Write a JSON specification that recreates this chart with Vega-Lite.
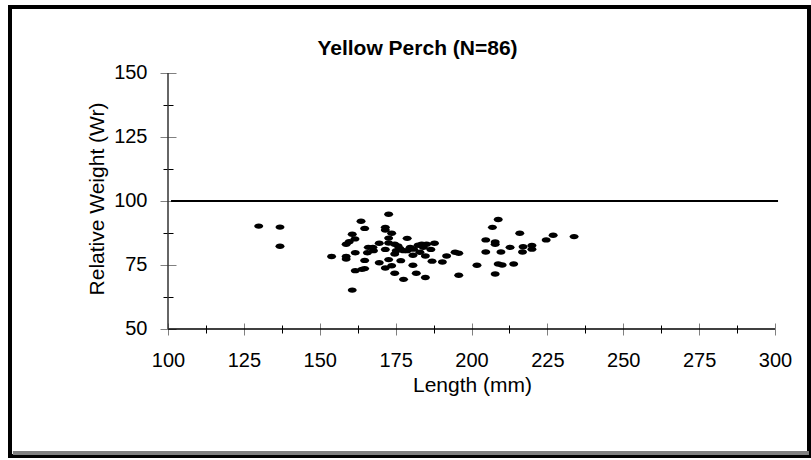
{
  "$schema": "https://vega.github.io/schema/vega-lite/v6.json",
  "width": 799,
  "height": 449,
  "autosize": {"type": "none"},
  "padding": {"left": 10, "top": 7, "right": 2, "bottom": 4},
  "background": "white",
  "config": {
    "view": {"stroke": "black", "strokeWidth": 4},
    "font": "Liberation Sans",
    "axis": {"grid": false, "domain": false, "labelFont": "Liberation Sans", "titleFont": "Liberation Sans"}
  },
  "title": {
    "text": "Yellow Perch (N=86)",
    "font": "Liberation Sans",
    "fontSize": 21,
    "fontWeight": "bold",
    "color": "black",
    "anchor": "middle",
    "frame": "group",
    "baseline": "alphabetic",
    "offset": 0,
    "dy": 69,
    "dx": 8
  },
  "resolve": {"axis": {"x": "independent", "y": "independent"}},
  "layer": [
    {
      "data": {"values": [
        {"Length": 129.9, "Wr": 90.2},
        {"Length": 136.9, "Wr": 89.8},
        {"Length": 136.9, "Wr": 82.3},
        {"Length": 153.9, "Wr": 78.3},
        {"Length": 158.7, "Wr": 83.1},
        {"Length": 158.7, "Wr": 78.3},
        {"Length": 158.7, "Wr": 77.3},
        {"Length": 159.7, "Wr": 84.1},
        {"Length": 160.7, "Wr": 87.0},
        {"Length": 161.6, "Wr": 85.2},
        {"Length": 160.7, "Wr": 65.2},
        {"Length": 161.7, "Wr": 79.8},
        {"Length": 161.7, "Wr": 72.8},
        {"Length": 163.6, "Wr": 92.1},
        {"Length": 163.9, "Wr": 73.3},
        {"Length": 164.8, "Wr": 89.3},
        {"Length": 164.8, "Wr": 76.8},
        {"Length": 164.8, "Wr": 73.6},
        {"Length": 165.7, "Wr": 79.8},
        {"Length": 166.0, "Wr": 81.9},
        {"Length": 167.5, "Wr": 81.9},
        {"Length": 167.7, "Wr": 80.6},
        {"Length": 169.6, "Wr": 83.5},
        {"Length": 169.6, "Wr": 75.9},
        {"Length": 171.6, "Wr": 89.7},
        {"Length": 171.6, "Wr": 88.7},
        {"Length": 171.6, "Wr": 81.1},
        {"Length": 171.6, "Wr": 73.8},
        {"Length": 172.7, "Wr": 94.8},
        {"Length": 172.7, "Wr": 85.5},
        {"Length": 172.7, "Wr": 83.6},
        {"Length": 172.7, "Wr": 77.1},
        {"Length": 173.7, "Wr": 87.4},
        {"Length": 173.7, "Wr": 74.7},
        {"Length": 174.7, "Wr": 83.1},
        {"Length": 174.7, "Wr": 79.3},
        {"Length": 174.7, "Wr": 71.8},
        {"Length": 175.2, "Wr": 80.6},
        {"Length": 175.8, "Wr": 82.4},
        {"Length": 176.7, "Wr": 76.7},
        {"Length": 177.6, "Wr": 80.6},
        {"Length": 177.6, "Wr": 69.4},
        {"Length": 178.8, "Wr": 85.4},
        {"Length": 178.8, "Wr": 80.6},
        {"Length": 179.8, "Wr": 81.9},
        {"Length": 180.7, "Wr": 78.8},
        {"Length": 180.7, "Wr": 74.9},
        {"Length": 180.9, "Wr": 81.2},
        {"Length": 181.8, "Wr": 71.8},
        {"Length": 182.4, "Wr": 82.7},
        {"Length": 183.6, "Wr": 83.1},
        {"Length": 184.1, "Wr": 81.9},
        {"Length": 184.8, "Wr": 78.5},
        {"Length": 184.8, "Wr": 70.1},
        {"Length": 185.2, "Wr": 83.1},
        {"Length": 186.6, "Wr": 81.1},
        {"Length": 187.0, "Wr": 76.5},
        {"Length": 187.8, "Wr": 83.5},
        {"Length": 190.4, "Wr": 76.2},
        {"Length": 191.8, "Wr": 78.5},
        {"Length": 194.6, "Wr": 80.0},
        {"Length": 195.8, "Wr": 79.6},
        {"Length": 195.8, "Wr": 71.0},
        {"Length": 201.8, "Wr": 74.9},
        {"Length": 204.7, "Wr": 84.8},
        {"Length": 204.7, "Wr": 80.1},
        {"Length": 206.9, "Wr": 89.7},
        {"Length": 207.8, "Wr": 84.0},
        {"Length": 207.8, "Wr": 83.1},
        {"Length": 207.8, "Wr": 71.5},
        {"Length": 208.8, "Wr": 92.8},
        {"Length": 208.8, "Wr": 75.4},
        {"Length": 209.7, "Wr": 80.1},
        {"Length": 210.1, "Wr": 75.0},
        {"Length": 212.7, "Wr": 81.9},
        {"Length": 213.9, "Wr": 75.4},
        {"Length": 215.9, "Wr": 87.4},
        {"Length": 216.8, "Wr": 80.1},
        {"Length": 217.0, "Wr": 82.1},
        {"Length": 219.9, "Wr": 82.6},
        {"Length": 219.9, "Wr": 81.2},
        {"Length": 224.6, "Wr": 84.8},
        {"Length": 226.9, "Wr": 86.6},
        {"Length": 233.8, "Wr": 86.1},
        {"Length": 176.4, "Wr": 81.5},
        {"Length": 183.0, "Wr": 80.0}
      ]},
      "mark": {"type": "point", "filled": true, "shape": "M-1,0A1,0.6,0,1,0,1,0A1,0.6,0,1,0,-1,0Z", "size": 81, "color": "black", "opacity": 1, "strokeWidth": 0},
      "encoding": {
        "x": {
          "field": "Length", "type": "quantitative",
          "scale": {"domain": [47.94, 311.2], "nice": false, "zero": false},
          "axis": {
            "orient": "bottom", "offset": -127,
            "values": [100, 125, 150, 175, 200, 225, 250, 275, 300],
            "ticks": false, "tickSize": 0, "labelPadding": 21,
            "labelFontSize": 20, "labelColor": "black",
            "title": "Length (mm)", "titleFontSize": 21, "titleFontWeight": "normal", "titleColor": "black",
            "titleX": 462, "titleY": 62.5, "titleBaseline": "alphabetic"
          }
        },
        "y": {
          "field": "Wr", "type": "quantitative",
          "scale": {"domain": [0.39, 175.78], "nice": false, "zero": false},
          "axis": {
            "orient": "left", "offset": -158,
            "values": [50, 75, 100, 125, 150],
            "ticks": false, "tickSize": 0, "labelPadding": 21,
            "labelFontSize": 20, "labelColor": "black",
            "title": "Relative Weight (Wr)", "titleFontSize": 21, "titleFontWeight": "normal", "titleColor": "black",
            "titleX": -65, "titleY": 191.5, "titleBaseline": "alphabetic", "titleAngle": -90
          }
        }
      }
    },
    {
      "data": {"values": [{"Length": 101, "Length2": 301, "Wr": 100}]},
      "mark": {"type": "rule", "color": "black", "strokeWidth": 2},
      "encoding": {
        "x": {
          "field": "Length", "type": "quantitative",
          "scale": {"domain": [47.94, 311.2], "nice": false, "zero": false},
          "axis": {"orient": "bottom", "offset": -133, "values": [100, 125, 150, 175, 200, 225, 250, 275, 300], "tickSize": 12, "tickColor": "#808080", "tickWidth": 1, "labels": false, "title": null}
        },
        "x2": {"field": "Length2"},
        "y": {
          "field": "Wr", "type": "quantitative",
          "scale": {"domain": [0.39, 175.78], "nice": false, "zero": false},
          "axis": {"orient": "left", "offset": -166, "values": [50, 75, 100, 125, 150], "tickSize": 16, "tickColor": "#808080", "tickWidth": 1, "labels": false, "title": null}
        }
      }
    },
    {
      "data": {"values": [{}]},
      "mark": {"type": "rule", "color": "black", "strokeWidth": 1.5},
      "encoding": {
        "x": {
          "datum": 100, "type": "quantitative",
          "scale": {"domain": [47.94, 311.2], "nice": false, "zero": false},
          "axis": {"orient": "bottom", "offset": -131, "values": [112.5, 137.5, 162.5, 187.5, 212.5, 237.5, 262.5, 287.5], "tickSize": 8, "tickColor": "black", "tickWidth": 1, "labels": false, "title": null}
        },
        "x2": {"datum": 300},
        "y": {
          "datum": 50, "type": "quantitative",
          "scale": {"domain": [0.39, 175.78], "nice": false, "zero": false},
          "axis": {"orient": "left", "offset": -163, "values": [62.5, 87.5, 112.5, 137.5], "tickSize": 10, "tickColor": "black", "tickWidth": 1, "labels": false, "title": null}
        }
      }
    },
    {
      "data": {"values": [{}]},
      "mark": {"type": "rule", "color": "#333333", "strokeWidth": 1.5},
      "encoding": {
        "x": {"datum": 100, "type": "quantitative", "scale": {"domain": [47.94, 311.2], "nice": false, "zero": false}, "axis": null},
        "y": {"datum": 50, "type": "quantitative", "scale": {"domain": [0.39, 175.78], "nice": false, "zero": false}, "axis": null},
        "y2": {"datum": 150}
      }
    },
    {
      "data": {"values": [{}]},
      "mark": {"type": "rule", "color": "#808080", "strokeWidth": 4, "yOffset": -3},
      "encoding": {
        "x": {"datum": 48.9, "type": "quantitative", "scale": {"domain": [47.94, 311.2], "nice": false, "zero": false}, "axis": null},
        "x2": {"datum": 311.2},
        "y": {"datum": 0.39, "type": "quantitative", "scale": {"domain": [0.39, 175.78], "nice": false, "zero": false}, "axis": null}
      }
    }
  ]
}
